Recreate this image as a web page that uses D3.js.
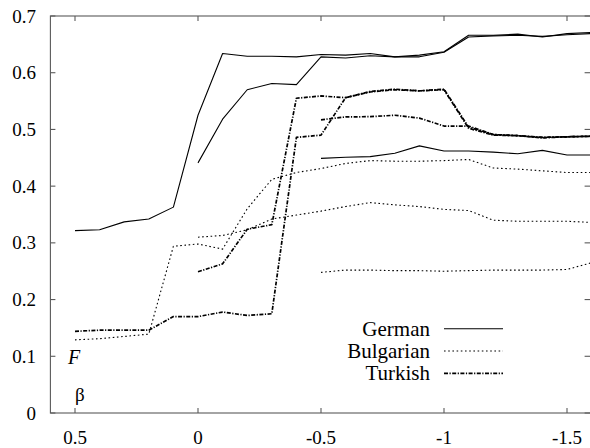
<!DOCTYPE html>
<html>
<head>
<meta charset="utf-8">
<script src="https://cdn.jsdelivr.net/npm/d3@7"></script>
<style>
  body { margin: 0; background: #fff; }
  svg { display: block; }
</style>
</head>
<body>
<div id="chart"></div>
<script>
// beta values for the three run lengths
const betaLong  = [0.5, 0.4, 0.3, 0.2, 0.1, 0, -0.1, -0.2, -0.3, -0.4, -0.5, -0.6, -0.7, -0.8, -0.9, -1.0, -1.1, -1.2, -1.3, -1.4, -1.5, -1.6];
const betaMid   = [0, -0.1, -0.2, -0.3, -0.4, -0.5, -0.6, -0.7, -0.8, -0.9, -1.0, -1.1, -1.2, -1.3, -1.4, -1.5, -1.6];
const betaShort = [-0.5, -0.6, -0.7, -0.8, -0.9, -1.0, -1.1, -1.2, -1.3, -1.4, -1.5, -1.6];

// F values
const germanLong  = [0.3215, 0.323, 0.337, 0.342, 0.363, 0.525, 0.634, 0.629, 0.629, 0.628, 0.632, 0.631, 0.634, 0.628, 0.631, 0.637, 0.666, 0.666, 0.668, 0.663, 0.669, 0.671];
const germanMid   = [0.441, 0.518, 0.570, 0.581, 0.579, 0.628, 0.626, 0.630, 0.628, 0.628, 0.636, 0.663, 0.665, 0.666, 0.664, 0.667, 0.669];
const germanShort = [0.449, 0.451, 0.452, 0.458, 0.471, 0.462, 0.462, 0.460, 0.457, 0.463, 0.455, 0.455];

const bulgarianLong  = [0.129, 0.131, 0.135, 0.139, 0.294, 0.298, 0.289, 0.360, 0.412, 0.424, 0.431, 0.440, 0.445, 0.444, 0.444, 0.445, 0.447, 0.432, 0.430, 0.427, 0.424, 0.424];
const bulgarianMid   = [0.310, 0.313, 0.323, 0.342, 0.349, 0.356, 0.364, 0.371, 0.367, 0.364, 0.359, 0.357, 0.340, 0.338, 0.338, 0.338, 0.336];
const bulgarianShort = [0.248, 0.252, 0.252, 0.251, 0.251, 0.250, 0.251, 0.252, 0.252, 0.252, 0.253, 0.265];

const turkishLong  = [0.144, 0.146, 0.146, 0.146, 0.170, 0.170, 0.178, 0.172, 0.175, 0.486, 0.490, 0.556, 0.567, 0.571, 0.568, 0.571, 0.504, 0.491, 0.489, 0.486, 0.487, 0.488];
const turkishMid   = [0.249, 0.263, 0.324, 0.332, 0.555, 0.559, 0.556, 0.566, 0.570, 0.568, 0.570, 0.502, 0.490, 0.489, 0.485, 0.487, 0.488];
const turkishShort = [0.517, 0.522, 0.5225, 0.525, 0.520, 0.506, 0.506, 0.491, 0.489, 0.486, 0.487, 0.488];

const xTicks = [0.5, 0, -0.5, -1, -1.5];
const yTicks = [0, 0.1, 0.2, 0.3, 0.4, 0.5, 0.6, 0.7];
const languages = ["German", "Bulgarian", "Turkish"];

const width = 590, height = 448;
const plotLeft = 50.4, plotRight = 591.6, plotTop = 16, plotBottom = 413;
const serif = "'Liberation Serif', 'Times New Roman', Times, serif";

const x = d3.scaleLinear().domain([0.6, -1.6]).range([plotLeft, plotRight]);
const y = d3.scaleLinear().domain([0, 0.7]).range([plotBottom, plotTop]);

const styles = {
    German:    { dash: null,      width: 1.1 },
    Bulgarian: { dash: "1.6,2.6", width: 1.1 },
    Turkish:   { dash: "4,1.5,1.2,1.5", width: 1.7 }
};

const series = [
    { lang: "German", b: betaLong, f: germanLong },
    { lang: "German", b: betaMid, f: germanMid },
    { lang: "German", b: betaShort, f: germanShort },
    { lang: "Bulgarian", b: betaLong, f: bulgarianLong },
    { lang: "Bulgarian", b: betaMid, f: bulgarianMid },
    { lang: "Bulgarian", b: betaShort, f: bulgarianShort },
    { lang: "Turkish", b: betaLong, f: turkishLong },
    { lang: "Turkish", b: betaMid, f: turkishMid },
    { lang: "Turkish", b: betaShort, f: turkishShort }
];

const svg = d3.select("#chart").append("svg")
    .attr("width", width)
    .attr("height", height)
    .style("font-family", serif);

svg.append("defs").append("clipPath").attr("id", "plot")
    .append("rect")
    .attr("x", plotLeft).attr("y", plotTop)
    .attr("width", plotRight - plotLeft).attr("height", plotBottom - plotTop);

const frameColor = "#5a5a5a";

// frame
svg.append("rect")
    .attr("x", plotLeft).attr("y", plotTop)
    .attr("width", plotRight - plotLeft).attr("height", plotBottom - plotTop)
    .attr("fill", "none")
    .attr("stroke", frameColor)
    .attr("stroke-width", 1.1);

// ticks (mirrored, pointing inward)
const tickLen = 5;
xTicks.forEach(t => {
    svg.append("line").attr("x1", x(t)).attr("x2", x(t)).attr("y1", plotBottom).attr("y2", plotBottom - tickLen)
        .attr("stroke", frameColor).attr("stroke-width", 1.1);
    svg.append("line").attr("x1", x(t)).attr("x2", x(t)).attr("y1", plotTop).attr("y2", plotTop + tickLen)
        .attr("stroke", frameColor).attr("stroke-width", 1.1);
});
yTicks.forEach(t => {
    svg.append("line").attr("x1", plotLeft).attr("x2", plotLeft + tickLen).attr("y1", y(t)).attr("y2", y(t))
        .attr("stroke", frameColor).attr("stroke-width", 1.1);
    svg.append("line").attr("x1", plotRight).attr("x2", plotRight - tickLen - 2).attr("y1", y(t)).attr("y2", y(t))
        .attr("stroke", frameColor).attr("stroke-width", 1.1);
});

// tick labels
svg.selectAll(".xlab").data(xTicks).enter().append("text")
    .attr("x", d => x(d))
    .attr("y", 444)
    .attr("text-anchor", "middle")
    .attr("font-size", "19px")
    .text(d => String(d));

svg.selectAll(".ylab").data(yTicks).enter().append("text")
    .attr("x", 36)
    .attr("y", d => y(d) + 6.5)
    .attr("text-anchor", "end")
    .attr("font-size", "19px")
    .text(d => String(d));

// axis names inside the plot
svg.append("text").attr("x", 68).attr("y", 364)
    .attr("font-size", "20px").attr("font-style", "italic").text("F");
svg.append("text").attr("x", 75).attr("y", 401)
    .attr("font-size", "19px").text("β");

// lines
const line = d3.line()
    .x(d => x(d[0]))
    .y(d => y(d[1]));

const plot = svg.append("g").attr("clip-path", "url(#plot)");
series.forEach(s => {
    const st = styles[s.lang];
    plot.append("path")
        .datum(s.b.map((b, i) => [b, s.f[i]]))
        .attr("d", line)
        .attr("fill", "none")
        .attr("stroke", "#000")
        .attr("stroke-width", st.width)
        .attr("stroke-dasharray", st.dash)
        .attr("stroke-linejoin", "round");
});

// legend
const legend = svg.append("g");
languages.forEach((lang, i) => {
    const ly = 328.7 + i * 22.3;
    const st = styles[lang];
    legend.append("text")
        .attr("x", 430)
        .attr("y", ly + 7)
        .attr("text-anchor", "end")
        .attr("font-size", "21px")
        .text(lang);
    legend.append("line")
        .attr("x1", 444).attr("x2", 503)
        .attr("y1", ly).attr("y2", ly)
        .attr("stroke", "#000")
        .attr("stroke-width", st.width)
        .attr("stroke-dasharray", st.dash);
});
</script>
</body>
</html>
